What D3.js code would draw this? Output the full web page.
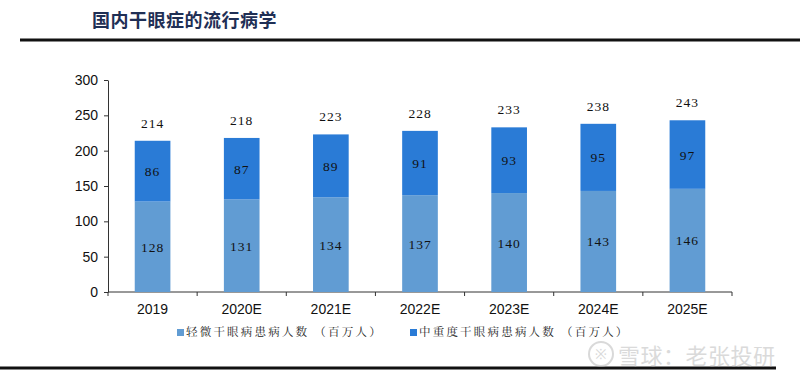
<!DOCTYPE html>
<html>
<head>
<meta charset="utf-8">
<script src="https://cdn.jsdelivr.net/npm/d3@7"></script>
<style>
  body { margin: 0; background: #fff; }
  svg { display: block; }
</style>
</head>
<body>
<svg id="chart" width="800" height="379"></svg>
<script>
// data
const years = ["2019", "2020E", "2021E", "2022E", "2023E", "2024E", "2025E"];
const mild = [128, 131, 134, 137, 140, 143, 146];
const severe = [86, 87, 89, 91, 93, 95, 97];
const totals = [214, 218, 223, 228, 233, 238, 243];
const yTicks = [0, 50, 100, 150, 200, 250, 300];
const seriesNames = ["轻微干眼病患病人数 （百万人）", "中重度干眼病患病人数 （百万人）"];

const colors = ["#619cd3", "#2a7bd6"];
const serif = "'Liberation Serif', 'Noto Serif CJK SC', 'Noto Sans CJK SC', serif";

const svg = d3.select("#chart");

// title + rules
svg.append("text")
    .attr("x", 92).attr("y", 27)
    .attr("font-family", "'Noto Sans CJK SC', sans-serif")
    .attr("font-weight", "bold")
    .attr("font-size", 18)
    .attr("letter-spacing", 0.5)
    .attr("fill", "#1f2f55")
    .text("国内干眼症的流行病学");

svg.append("line")
    .attr("x1", 20).attr("x2", 800).attr("y1", 40).attr("y2", 40)
    .attr("stroke", "#111").attr("stroke-width", 3);

svg.append("line")
    .attr("x1", 0).attr("x2", 776).attr("y1", 368).attr("y2", 368)
    .attr("stroke", "#111").attr("stroke-width", 3);

// scales
const x = d3.scaleBand().domain(years).range([108, 732]).paddingInner(0.6).paddingOuter(0.3);
const y = d3.scaleLinear().domain([0, 300]).range([292, 80]);

// y axis
const yAxis = svg.append("g")
    .attr("transform", "translate(108,0)")
    .call(d3.axisLeft(y).tickValues(yTicks).tickSize(4).tickSizeOuter(0));
yAxis.select(".domain").attr("stroke", "#333");
yAxis.selectAll(".tick line").attr("stroke", "#333");
yAxis.selectAll(".tick text")
    .attr("x", -10)
    .attr("font-family", "'Liberation Sans', Arial, sans-serif")
    .attr("font-size", 14)
    .attr("fill", "#111");

// x axis with ticks between bands
const xg = svg.append("g").attr("transform", "translate(0,292)");
xg.append("line")
    .attr("x1", 108).attr("x2", 732)
    .attr("stroke", "#333");
const step = x.step();
const bounds = d3.range(years.length + 1).map(i => 108 + i * step);
xg.selectAll(".sep").data(bounds).join("line")
    .attr("x1", d => d).attr("x2", d => d)
    .attr("y1", 0).attr("y2", 4)
    .attr("stroke", "#333");
xg.selectAll(".lbl").data(years).join("text")
    .attr("x", d => x(d) + x.bandwidth() / 2)
    .attr("y", 22)
    .attr("text-anchor", "middle")
    .attr("font-family", "'Liberation Sans', Arial, sans-serif")
    .attr("font-size", 14)
    .attr("fill", "#111")
    .text(d => d);

// stacked bars
const rows = years.map((yr, i) => ({year: yr, mild: mild[i], severe: severe[i], total: totals[i]}));
const stack = d3.stack().keys(["mild", "severe"])(rows);

svg.append("g").selectAll("g").data(stack).join("g")
    .attr("fill", (d, i) => colors[i])
    .selectAll("rect").data(d => d).join("rect")
    .attr("x", d => x(d.data.year))
    .attr("width", x.bandwidth())
    .attr("y", d => y(d[1]))
    .attr("height", d => y(d[0]) - y(d[1]));

// segment labels
stack.forEach(layer => {
    svg.append("g").selectAll("text").data(layer).join("text")
        .attr("x", d => x(d.data.year) + x.bandwidth() / 2)
        .attr("y", d => (y(d[0]) + y(d[1])) / 2 + 5)
        .attr("text-anchor", "middle")
        .attr("font-family", serif)
        .attr("font-size", 13.5)
        .attr("letter-spacing", 1)
        .attr("fill", "#111")
        .text(d => d.data[layer.key]);
});

// totals
svg.append("g").selectAll("text").data(rows).join("text")
    .attr("x", d => x(d.year) + x.bandwidth() / 2)
    .attr("y", d => y(d.total) - 13)
    .attr("text-anchor", "middle")
    .attr("font-family", serif)
    .attr("font-size", 13.5)
    .attr("letter-spacing", 1)
    .attr("fill", "#111")
    .text(d => d.total);

// legend
const legendX = [177, 410];
const legend = svg.append("g").selectAll("g").data(seriesNames).join("g")
    .attr("transform", (d, i) => "translate(" + legendX[i] + ",336)");
legend.append("rect")
    .attr("x", 0).attr("y", -7).attr("width", 7).attr("height", 7)
    .attr("fill", (d, i) => colors[i]);
legend.append("text")
    .attr("x", 9).attr("y", 0)
    .attr("font-family", serif)
    .attr("font-size", 11.5)
    .attr("letter-spacing", 2.2)
    .attr("fill", "#222")
    .text(d => d);

// watermark
const wm = svg.append("g").attr("opacity", 0.55);
wm.append("circle").attr("cx", 601).attr("cy", 354).attr("r", 12)
    .attr("fill", "none").attr("stroke", "#bbb").attr("stroke-width", 2);
wm.append("text").attr("x", 601).attr("y", 359).attr("text-anchor", "middle")
    .attr("font-family", "'Liberation Sans', sans-serif").attr("font-size", 14)
    .attr("fill", "#bbb").text("※");
wm.append("text")
    .attr("x", 618).attr("y", 364)
    .attr("font-family", "'Noto Sans CJK SC', sans-serif")
    .attr("font-size", 22)
    .attr("letter-spacing", 0.5)
    .attr("fill", "#bdbdbd")
    .text("雪球：老张投研");
</script>
</body>
</html>
